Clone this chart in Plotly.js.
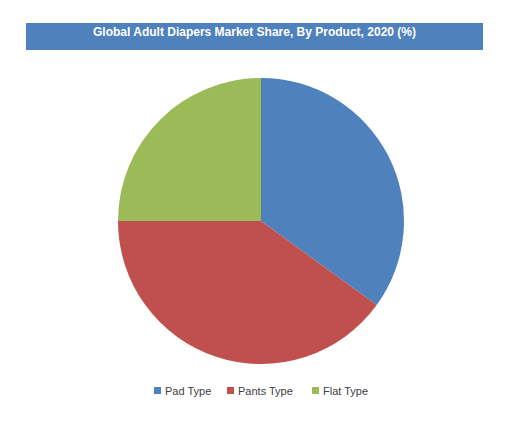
<!DOCTYPE html>
<html>
<head>
<meta charset="utf-8">
<script src="https://cdn.plot.ly/plotly-3.0.1.min.js"></script>
<style>html,body{margin:0;padding:0;background:#fff;}#chart{width:517px;height:428px;}</style>
</head>
<body>
<div id="chart"></div>
<script>
const categories = ["Pad Type", "Pants Type", "Flat Type"];
const shares = [35, 40, 25];
const colors = ["#4F81BD", "#C0504D", "#9BBB59"];
const chartTitle = "Global Adult Diapers Market Share, By Product, 2020 (%)";

const W = 517, H = 428;
const px = v => v / W;
const py = v => 1 - v / H;

const trace = {
  type: "pie",
  labels: categories,
  values: shares,
  sort: false,
  direction: "clockwise",
  rotation: 0,
  textinfo: "none",
  hoverinfo: "label+percent",
  marker: { colors: colors, line: { width: 0 } },
  domain: { x: [px(118), px(404)], y: [py(364), py(78)] }
};

// custom legend layout (Excel-style: small squares close to text)
const legendX = [154, 227, 312];
const legendY = 390.5;
const sq = 7;
const legendFont = { family: "Liberation Sans, Arial, sans-serif", size: 11, color: "#404040" };

const shapes = [{
  type: "rect", xref: "paper", yref: "paper",
  x0: px(26), x1: px(483), y0: py(50), y1: py(23),
  fillcolor: "#4F81BD", line: { width: 0 }, layer: "below"
}];
const annotations = [{
  text: "<b>" + chartTitle + "</b>",
  xref: "paper", yref: "paper",
  x: px(254.5), y: py(32), xanchor: "center", yanchor: "middle",
  showarrow: false,
  font: { family: "Liberation Sans, Arial, sans-serif", size: 12, color: "#fff" }
}];

categories.forEach((name, i) => {
  const x = legendX[i];
  shapes.push({
    type: "rect", xref: "paper", yref: "paper",
    x0: px(x), x1: px(x + sq), y0: py(legendY + sq / 2), y1: py(legendY - sq / 2),
    fillcolor: colors[i], line: { width: 0 }
  });
  annotations.push({
    text: name, xref: "paper", yref: "paper",
    x: px(x + sq + 3), y: py(legendY), xanchor: "left", yanchor: "middle",
    showarrow: false, font: legendFont, borderpad: 0
  });
});

const layout = {
  width: W, height: H,
  margin: { l: 0, r: 0, t: 0, b: 0 },
  paper_bgcolor: "#fff",
  showlegend: false,
  shapes: shapes,
  annotations: annotations
};

Plotly.newPlot("chart", [trace], layout, { displayModeBar: false, staticPlot: true });
</script>
</body>
</html>
